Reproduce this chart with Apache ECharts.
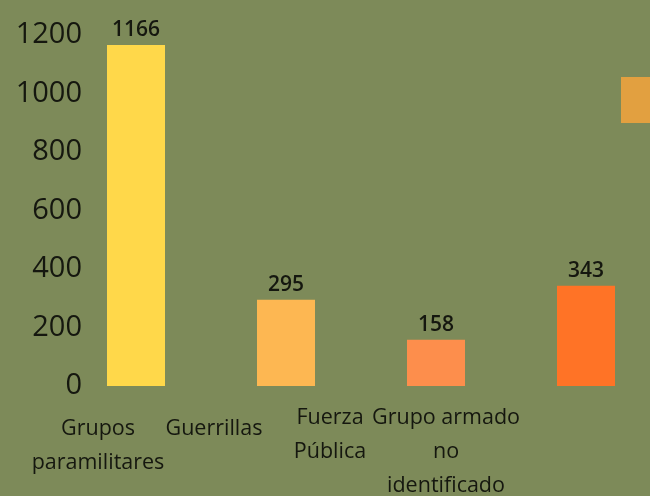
<!DOCTYPE html>
<html>
<head>
<meta charset="utf-8">
<script src="https://cdn.jsdelivr.net/npm/echarts@6/dist/echarts.min.js"></script>
<style>
  html, body { margin: 0; padding: 0; background: #7d8a59; }
  #chart { width: 650px; height: 496px; }
</style>
</head>
<body>
<div id="chart"></div>
<script>
// datos
var categorias = ['Grupos\nparamilitares', 'Guerrillas', 'Fuerza\nPública', 'Grupo armado\nno\nidentificado'];
var valores = [1166, 295, 158, 343];
var colores = ['#ffd84a', '#fdb752', '#fd8e4c', '#ff7326'];
var ticksY = [0, 200, 400, 600, 800, 1000, 1200];

(function() {
    var myChart = echarts.init(document.getElementById('chart'));
    var texto = '#15170f';
    var fuente = 'Open Sans';

    var option = {
        backgroundColor: '#7d8a59',
        animation: false,
        grid: [
          { left: 136, width: 450, top: 35, bottom: 110, outerBoundsMode: 'none' },
          { left: 40, width: 464, top: 35, bottom: 110, outerBoundsMode: 'none' }
        ],
        xAxis: [
          {
            type: 'category',
            gridIndex: 0,
            boundaryGap: false,
            data: categorias,
            axisLine: { show: false },
            axisTick: { show: false },
            axisLabel: { show: false }
          },
          {
            // etiquetas desplazadas como en la imagen original
            type: 'category',
            gridIndex: 1,
            data: categorias.map(function(c, i) {
                return i < 2 ? { value: c, textStyle: { padding: [11, 0, 0, 0] } } : c;
            }),
            axisLine: { show: false },
            axisTick: { show: false },
            axisLabel: {
              interval: 0,
              margin: 15,
              color: texto,
              fontFamily: fuente,
              fontSize: 21.5,
              lineHeight: 34,
              align: 'center'
            }
          }
        ],
        yAxis: [
          {
            type: 'value',
            gridIndex: 0,
            min: ticksY[0],
            max: ticksY[ticksY.length - 1],
            interval: 200,
            splitLine: { show: false },
            axisLine: { show: false },
            axisTick: { show: false },
            axisLabel: {
              margin: 54,
              color: texto,
              fontFamily: fuente,
              fontSize: 29,
              formatter: function(v) { return String(v); }
            }
          },
          {
            type: 'value',
            gridIndex: 1,
            show: false
          }
        ],
        series: [
          {
            type: 'bar',
            xAxisIndex: 0,
            yAxisIndex: 0,
            barWidth: 58,
            data: valores.map(function(v, i) {
                return { value: v, itemStyle: { color: colores[i] } };
            }),
            label: {
              show: true,
              position: 'top',
              distance: 4,
              color: texto,
              fontFamily: fuente,
              fontWeight: 600,
              fontSize: 21
            }
          }
        ],
        graphic: [
          {
            type: 'rect',
            shape: { x: 621, y: 77, width: 29, height: 46 },
            style: { fill: '#e2a040' }
          }
        ]
    };
    myChart.setOption(option);
})();
</script>
</body>
</html>
